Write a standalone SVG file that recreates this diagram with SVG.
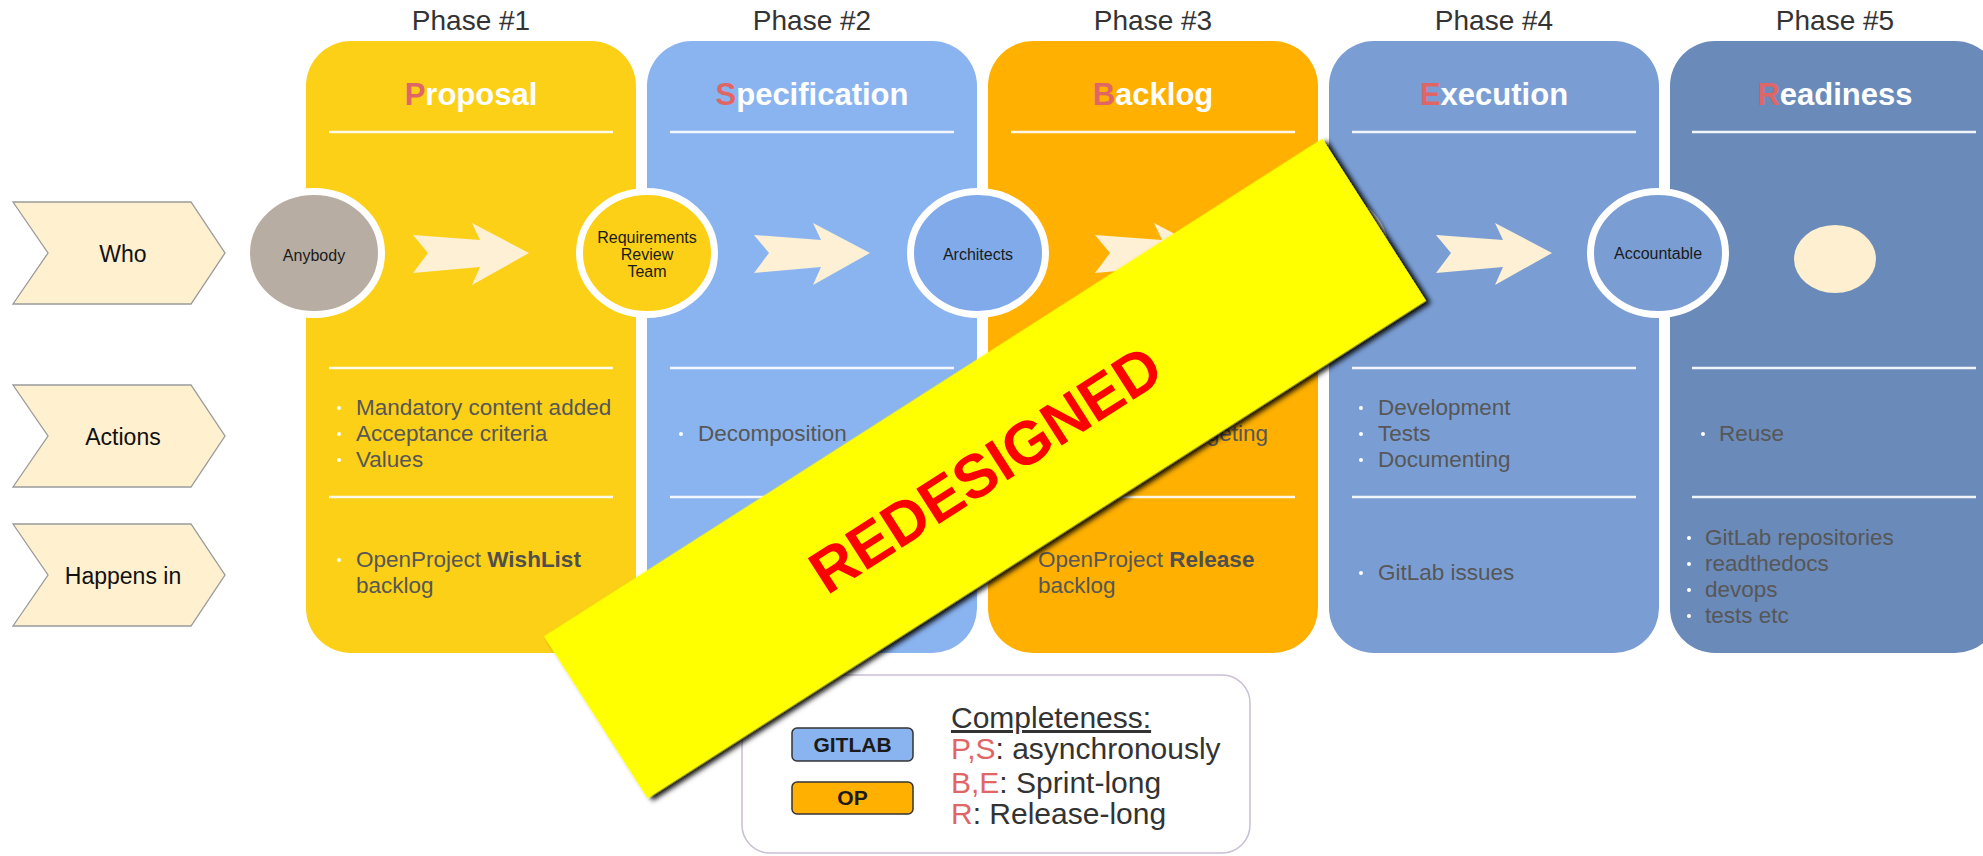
<svg xmlns="http://www.w3.org/2000/svg" xmlns:xlink="http://www.w3.org/1999/xlink" width="1983" height="856" viewBox="0 0 1983 856">
<style>
text{font-family:"Liberation Sans",Arial,sans-serif}
.phase{font-size:28px;fill:#333;text-anchor:middle}
.title{font-size:31px;font-weight:bold;fill:#fff;text-anchor:middle}
.ini{fill:#e06666}
.div{stroke:#fff;stroke-width:2.5;stroke-opacity:0.9}
.item{font-size:22.5px;fill:#575757}
.item .b{font-weight:bold;fill:#4f4f4f}
.bul{fill:#fff}
.who{font-size:16px;fill:#1a1a1a;text-anchor:middle}
.ring{stroke:#fff;stroke-width:7}
.chev{fill:#fff0cf;stroke:#9a9a9a;stroke-width:1.3}
.chevt{font-size:23px;fill:#111;text-anchor:middle}
.arrow{fill:#fdf0d5}
.leg{font-size:30px;fill:#333}
.red{fill:#e06666}
</style>
<defs>
<path id="arr" d="M-58,-18 L9,-13 L1,-30 L58,0 L1,32 L9,14 L-58,20 L-43,0 Z"/>
<path id="chv" d="M13,-51 L191,-51 L225,0 L191,51 L13,51 L48,0 Z"/>
<filter id="shadow" x="-10%" y="-20%" width="120%" height="140%">
<feDropShadow dx="3" dy="4.5" stdDeviation="2.5" flood-color="#000" flood-opacity="0.95"/>
</filter>
</defs>
<rect width="1983" height="856" fill="#fff"/>

<g id="row-labels">
<g id="lbl-who"><use href="#chv" y="253" class="chev"/><text class="chevt" x="123" y="262">Who</text></g>
<g id="lbl-actions"><use href="#chv" y="436" class="chev"/><text class="chevt" x="123" y="445">Actions</text></g>
<g id="lbl-happens"><use href="#chv" y="575" class="chev"/><text class="chevt" x="123" y="584">Happens in</text></g>
</g>

<g id="phase1">
<text class="phase" x="471" y="30">Phase #1</text>
<rect x="306" y="41" width="330" height="612" rx="45" fill="#fcd016"/>
<text class="title" x="471" y="105"><tspan class="ini">P</tspan>roposal</text>
<line class="div" x1="329" y1="132" x2="613" y2="132"/>
<line class="div" x1="329" y1="368" x2="613" y2="368"/>
<line class="div" x1="329" y1="497" x2="613" y2="497"/>
<circle class="bul" cx="339" cy="408" r="2"/><text class="item" x="356" y="415">Mandatory content added</text>
<circle class="bul" cx="339" cy="434" r="2"/><text class="item" x="356" y="441">Acceptance criteria</text>
<circle class="bul" cx="339" cy="460" r="2"/><text class="item" x="356" y="467">Values</text>
<circle class="bul" cx="339" cy="560" r="2"/><text class="item" x="356" y="567">OpenProject <tspan class="b">WishList</tspan></text>
<text class="item" x="356" y="593">backlog</text>
</g>

<g id="phase2">
<text class="phase" x="812" y="30">Phase #2</text>
<rect x="647" y="41" width="330" height="612" rx="45" fill="#8ab4f0"/>
<text class="title" x="812" y="105"><tspan class="ini">S</tspan>pecification</text>
<line class="div" x1="670" y1="132" x2="954" y2="132"/>
<line class="div" x1="670" y1="368" x2="954" y2="368"/>
<line class="div" x1="670" y1="497" x2="954" y2="497"/>
<circle class="bul" cx="681" cy="434" r="2"/><text class="item" x="698" y="441">Decomposition</text>
</g>

<g id="phase3">
<text class="phase" x="1153" y="30">Phase #3</text>
<rect x="988" y="41" width="330" height="612" rx="45" fill="#ffb000"/>
<text class="title" x="1153" y="105"><tspan class="ini">B</tspan>acklog</text>
<line class="div" x1="1011" y1="132" x2="1295" y2="132"/>
<line class="div" x1="1011" y1="368" x2="1295" y2="368"/>
<line class="div" x1="1011" y1="497" x2="1295" y2="497"/>
<text class="item" x="1268" y="441" text-anchor="end">Budgeting</text>
<circle class="bul" cx="1021" cy="560" r="2"/><text class="item" x="1038" y="567">OpenProject <tspan class="b">Release</tspan></text>
<text class="item" x="1038" y="593">backlog</text>
</g>

<g id="phase4">
<text class="phase" x="1494" y="30">Phase #4</text>
<rect x="1329" y="41" width="330" height="612" rx="45" fill="#7a9ed4"/>
<text class="title" x="1494" y="105"><tspan class="ini">E</tspan>xecution</text>
<line class="div" x1="1352" y1="132" x2="1636" y2="132"/>
<line class="div" x1="1352" y1="368" x2="1636" y2="368"/>
<line class="div" x1="1352" y1="497" x2="1636" y2="497"/>
<circle class="bul" cx="1361" cy="408" r="2"/><text class="item" x="1378" y="415">Development</text>
<circle class="bul" cx="1361" cy="434" r="2"/><text class="item" x="1378" y="441">Tests</text>
<circle class="bul" cx="1361" cy="460" r="2"/><text class="item" x="1378" y="467">Documenting</text>
<circle class="bul" cx="1361" cy="573" r="2"/><text class="item" x="1378" y="580">GitLab issues</text>
</g>

<g id="phase5">
<text class="phase" x="1835" y="30">Phase #5</text>
<rect x="1670" y="41" width="330" height="612" rx="45" fill="#6a8aba"/>
<text class="title" x="1835" y="105"><tspan class="ini">R</tspan>eadiness</text>
<line class="div" x1="1692" y1="132" x2="1976" y2="132"/>
<line class="div" x1="1692" y1="368" x2="1976" y2="368"/>
<line class="div" x1="1692" y1="497" x2="1976" y2="497"/>
<circle class="bul" cx="1703" cy="434" r="2"/><text class="item" x="1719" y="441">Reuse</text>
<circle class="bul" cx="1689" cy="538" r="2"/><text class="item" x="1705" y="545">GitLab repositories</text>
<circle class="bul" cx="1689" cy="564" r="2"/><text class="item" x="1705" y="571">readthedocs</text>
<circle class="bul" cx="1689" cy="590" r="2"/><text class="item" x="1705" y="597">devops</text>
<circle class="bul" cx="1689" cy="616" r="2"/><text class="item" x="1705" y="623">tests etc</text>
<ellipse cx="1835" cy="259" rx="41" ry="34" fill="#fdefcf"/>
</g>

<g id="connectors">
<use href="#arr" x="471" y="253" class="arrow"/>
<use href="#arr" x="812" y="253" class="arrow"/>
<use href="#arr" x="1153" y="253" class="arrow"/>
<use href="#arr" x="1494" y="253" class="arrow"/>
</g>

<g id="who-anybody"><ellipse class="ring" cx="314" cy="253" rx="67.5" ry="61.5" fill="#b8ada3"/><text class="who" x="314" y="261">Anybody</text></g>
<g id="who-rrt"><ellipse class="ring" cx="647" cy="253" rx="67.5" ry="61.5" fill="#fcd016"/><text class="who" x="647" y="243">Requirements</text><text class="who" x="647" y="260">Review</text><text class="who" x="647" y="277">Team</text></g>
<g id="who-architects"><ellipse class="ring" cx="978" cy="253" rx="67.5" ry="61.5" fill="#80aaea"/><text class="who" x="978" y="260">Architects</text></g>
<g id="who-hidden"><ellipse class="ring" cx="1318" cy="253" rx="67.5" ry="61.5" fill="#ffb000"/></g>
<g id="who-accountable"><ellipse class="ring" cx="1658" cy="253" rx="67.5" ry="61.5" fill="#7a9ed4"/><text class="who" x="1658" y="259">Accountable</text></g>

<g id="legend">
<rect x="742" y="675" width="508" height="178" rx="28" fill="#fff" stroke="#c9bfd3" stroke-width="1.5"/>
<rect x="792" y="728" width="121" height="33" rx="5" fill="#8ab4f0" stroke="#333" stroke-width="1.5"/>
<text x="852.5" y="752" font-size="21" font-weight="bold" fill="#1a1a1a" text-anchor="middle">GITLAB</text>
<rect x="792" y="782" width="121" height="32" rx="5" fill="#ffb000" stroke="#333" stroke-width="1.5"/>
<text x="852.5" y="805" font-size="21" font-weight="bold" fill="#1a1a1a" text-anchor="middle">OP</text>
<text class="leg" x="951" y="728" text-decoration="underline">Completeness:</text>
<text class="leg" x="951" y="759"><tspan class="red">P,S</tspan>: asynchronously</text>
<text class="leg" x="951" y="793"><tspan class="red">B,E</tspan>: Sprint-long</text>
<text class="leg" x="951" y="824"><tspan class="red">R</tspan>: Release-long</text>
</g>

<g id="banner" transform="translate(985,468.5) rotate(-32.6)">
<rect x="-462" y="-96.25" width="924" height="192.5" fill="#ffff00" filter="url(#shadow)"/>
<text x="0" y="22" font-size="61" font-weight="bold" fill="#ff0000" text-anchor="middle">REDESIGNED</text>
</g>
</svg>
